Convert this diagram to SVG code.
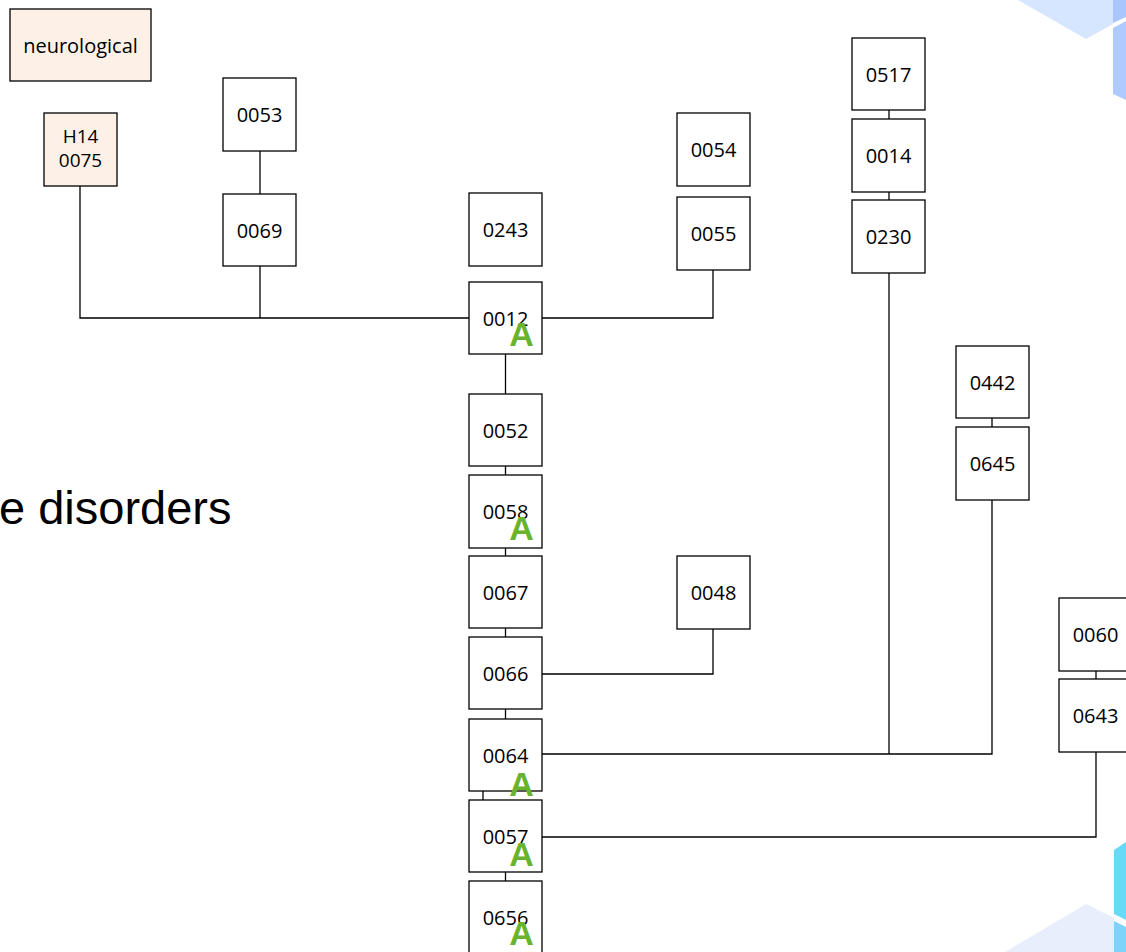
<svg xmlns="http://www.w3.org/2000/svg" width="1126" height="952" viewBox="0 0 1126 952">
  <style>
    .box { fill: #ffffff; stroke: #000000; stroke-width: 1.3; }
    .tag { fill: #fdf1e7; stroke: #000000; stroke-width: 1.3; }
    .lbl { font-family: "Open Sans", "Noto Sans", "Liberation Sans", sans-serif; font-size: 20px; fill: #000000; text-anchor: middle; dominant-baseline: central; }
    .mark { font-family: "Liberation Sans", Arial, sans-serif; font-size: 34px; font-weight: bold; fill: #6ab42d; text-anchor: middle; }
    .wire { fill: none; stroke: #000000; stroke-width: 1.3; }
  </style>

  <!-- corner decoration -->
  <g id="decor">
    <polygon points="1018,0 1113,0 1113,24 1086,39" fill="#d6e6fe"/>
    <polygon points="1113,0 1126,0 1126,17 1113,23" fill="#a9c6ff"/>
    <polygon points="1113,28 1126,21 1126,100 1113,94" fill="#aecaff"/>
    <polygon points="1005,952 1086,904 1114,918 1114,952" fill="#e9eefd"/>
    <polygon points="1114,850 1126,842 1126,920 1114,914" fill="#66daf7"/>
    <polygon points="1114,921 1126,927 1126,952 1114,952" fill="#7dd4fa"/>
  </g>

  <text x="-1" y="524" font-family="Liberation Sans, Arial, sans-serif" font-size="47" fill="#000000">e disorders</text>

  <g id="connectors">
    <polyline class="wire" points="80,186 80,318 469,318"/>
    <line class="wire" x1="260" y1="151" x2="260" y2="194"/>
    <line class="wire" x1="260" y1="266" x2="260" y2="318"/>
    <polyline class="wire" points="713,270 713,318 542,318"/>
    <line class="wire" x1="505.5" y1="354" x2="505.5" y2="394"/>
    <line class="wire" x1="505.5" y1="466" x2="505.5" y2="475"/>
    <line class="wire" x1="505.5" y1="548" x2="505.5" y2="556"/>
    <line class="wire" x1="505.5" y1="628" x2="505.5" y2="637"/>
    <line class="wire" x1="505.5" y1="709" x2="505.5" y2="719"/>
    <line class="wire" x1="483" y1="791" x2="483" y2="800"/>
    <line class="wire" x1="505.5" y1="872" x2="505.5" y2="881"/>
    <polyline class="wire" points="713,629 713,674 542,674"/>
    <line class="wire" x1="889" y1="110" x2="889" y2="119"/>
    <line class="wire" x1="889" y1="192" x2="889" y2="200"/>
    <line class="wire" x1="889" y1="273" x2="889" y2="754"/>
    <line class="wire" x1="992" y1="418" x2="992" y2="427"/>
    <polyline class="wire" points="992,500 992,754 542,754"/>
    <line class="wire" x1="1096" y1="671" x2="1096" y2="679"/>
    <polyline class="wire" points="1096,752 1096,837 542,837"/>
  </g>

  <g id="n-neurological"><rect class="tag" x="10" y="9" width="141" height="72"/><text class="lbl" x="80.5" y="45">neurological</text></g>
  <g id="n-h14"><rect class="tag" x="44" y="113" width="73" height="73"/>
    <text x="80.5" y="143" font-family="Open Sans, Noto Sans, sans-serif" font-size="19" text-anchor="middle">H14</text>
    <text x="80.5" y="167" font-family="Open Sans, Noto Sans, sans-serif" font-size="19" text-anchor="middle">0075</text></g>
  <g id="n-0053"><rect class="box" x="223" y="78" width="73" height="73"/><text class="lbl" x="259.5" y="114.5">0053</text></g>
  <g id="n-0069"><rect class="box" x="223" y="194" width="73" height="72"/><text class="lbl" x="259.5" y="230">0069</text></g>
  <g id="n-0243"><rect class="box" x="469" y="193" width="73" height="73"/><text class="lbl" x="505.5" y="229.5">0243</text></g>
  <g id="n-0012"><rect class="box" x="469" y="282" width="73" height="72"/><text class="lbl" x="505.5" y="318">0012</text><text class="mark" x="521.5" y="346">A</text></g>
  <g id="n-0052"><rect class="box" x="469" y="394" width="73" height="72"/><text class="lbl" x="505.5" y="430">0052</text></g>
  <g id="n-0058"><rect class="box" x="469" y="475" width="73" height="73"/><text class="lbl" x="505.5" y="511.5">0058</text><text class="mark" x="521.5" y="540">A</text></g>
  <g id="n-0067"><rect class="box" x="469" y="556" width="73" height="72"/><text class="lbl" x="505.5" y="592">0067</text></g>
  <g id="n-0066"><rect class="box" x="469" y="637" width="73" height="72"/><text class="lbl" x="505.5" y="673">0066</text></g>
  <g id="n-0064"><rect class="box" x="469" y="719" width="73" height="72"/><text class="lbl" x="505.5" y="755">0064</text><text class="mark" x="521.5" y="796">A</text></g>
  <g id="n-0057"><rect class="box" x="469" y="800" width="73" height="72"/><text class="lbl" x="505.5" y="836">0057</text><text class="mark" x="521.5" y="866">A</text></g>
  <g id="n-0656"><rect class="box" x="469" y="881" width="73" height="73"/><text class="lbl" x="505.5" y="917">0656</text><text class="mark" x="521.5" y="945">A</text></g>
  <g id="n-0054"><rect class="box" x="677" y="113" width="73" height="73"/><text class="lbl" x="713.5" y="149.5">0054</text></g>
  <g id="n-0055"><rect class="box" x="677" y="197" width="73" height="73"/><text class="lbl" x="713.5" y="233.5">0055</text></g>
  <g id="n-0048"><rect class="box" x="677" y="556" width="73" height="73"/><text class="lbl" x="713.5" y="592.5">0048</text></g>
  <g id="n-0517"><rect class="box" x="852" y="38" width="73" height="72"/><text class="lbl" x="888.5" y="74">0517</text></g>
  <g id="n-0014"><rect class="box" x="852" y="119" width="73" height="73"/><text class="lbl" x="888.5" y="155.5">0014</text></g>
  <g id="n-0230"><rect class="box" x="852" y="200" width="73" height="73"/><text class="lbl" x="888.5" y="236.5">0230</text></g>
  <g id="n-0442"><rect class="box" x="956" y="346" width="73" height="72"/><text class="lbl" x="992.5" y="382">0442</text></g>
  <g id="n-0645"><rect class="box" x="956" y="427" width="73" height="73"/><text class="lbl" x="992.5" y="463.5">0645</text></g>
  <g id="n-0060"><rect class="box" x="1059" y="598" width="73" height="73"/><text class="lbl" x="1095.5" y="634.5">0060</text></g>
  <g id="n-0643"><rect class="box" x="1059" y="679" width="73" height="73"/><text class="lbl" x="1095.5" y="715.5">0643</text></g>
</svg>
